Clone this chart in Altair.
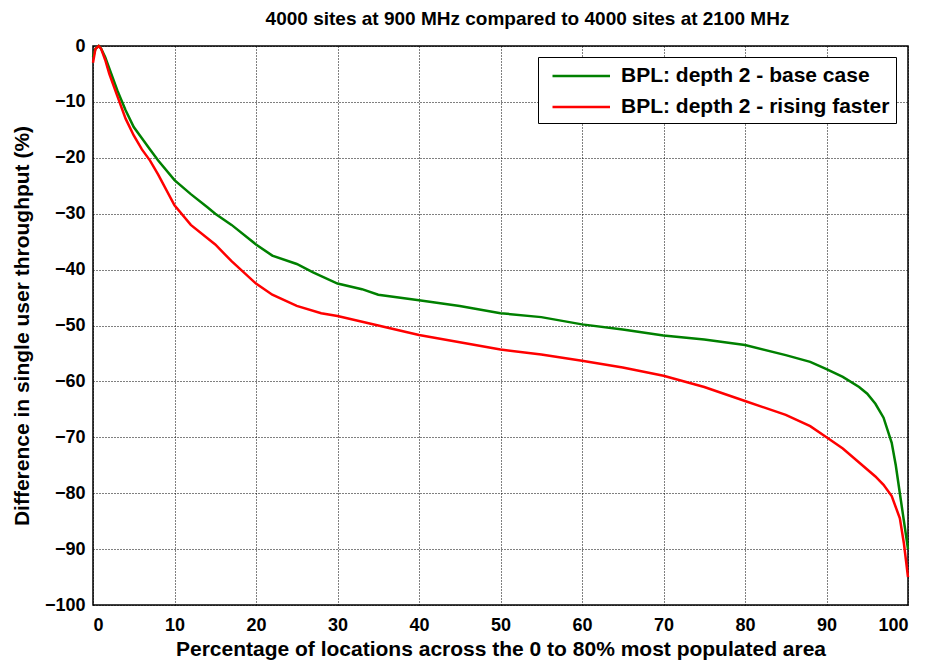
import altair as alt
import pandas as pd

title_text = "4000 sites at 900 MHz compared to 4000 sites at 2100 MHz"
series_names = ["BPL: depth 2 - base case", "BPL: depth 2 - rising faster"]
series_colors = ["#008000", "#ff0000"]

x_base = [0, 0.3, 0.7, 1, 1.5, 2, 3, 4, 5, 6, 7, 8, 10, 12, 14, 15, 17, 20, 22, 25, 27, 30, 33,
          35, 40, 45, 50, 55, 60, 65, 70, 75, 80, 85, 88, 90, 92, 94, 95, 96, 97, 98, 98.5,
          99, 99.5, 100]
y_base = [-2, -0.5, 0, -0.5, -2, -4, -8, -11.5, -14.5, -16.5, -18.5, -20.5, -24, -26.5, -28.8,
          -30, -32, -35.5, -37.5, -39, -40.5, -42.5, -43.5, -44.5, -45.5, -46.5, -47.8, -48.5,
          -49.8, -50.7, -51.8, -52.5, -53.5, -55.3, -56.5, -57.8, -59.2, -61, -62.2, -64,
          -66.5, -71, -75, -80, -85, -90]

x_fast = [0, 0.3, 0.7, 1, 1.5, 2, 3, 4, 5, 6, 7, 8, 10, 12, 15, 17, 20, 22, 25, 28, 30, 35, 40,
          45, 50, 55, 60, 65, 70, 75, 80, 85, 88, 90, 92, 94, 96, 97, 98, 99, 99.5, 100]
y_fast = [-3, -0.5, 0, -0.5, -2.5, -5, -9, -13, -16, -18.5, -20.5, -23, -28.5, -32, -35.5,
          -38.5, -42.5, -44.5, -46.5, -47.8, -48.3, -50, -51.7, -53, -54.3, -55.2, -56.3,
          -57.5, -59, -61, -63.5, -66, -68, -70, -72, -74.5, -77, -78.5, -80.5, -84.5, -89, -95]

y_ticks = list(range(-100, 1, 10))
x_ticks = list(range(0, 101, 10))

rows = []
for i, (xs, ys) in enumerate([(x_base, y_base), (x_fast, y_fast)]):
    for j, (xv, yv) in enumerate(zip(xs, ys)):
        rows.append({"x": xv, "y": yv, "series": series_names[i], "order": j})
df = pd.DataFrame(rows)

font = "Liberation Sans"

chart = alt.Chart(df).mark_line(strokeWidth=2.5).encode(
    x=alt.X("x:Q", scale=alt.Scale(domain=[0, 100], nice=False),
            axis=alt.Axis(values=x_ticks, title="Percentage of locations across the 0 to 80% most populated area",
                          labelPadding=11, titlePadding=4)),
    y=alt.Y("y:Q", scale=alt.Scale(domain=[-100, 0], nice=False),
            axis=alt.Axis(values=y_ticks, title="Difference in single user throughput (%)",
                          labelPadding=8, titlePadding=12)),
    color=alt.Color("series:N", scale=alt.Scale(domain=series_names, range=series_colors),
                    legend=alt.Legend(title=None, orient="none", legendX=445, legendY=11,
                                      symbolType="M-1,0H4", symbolSize=529, symbolStrokeWidth=2.5,
                                      symbolOffset=7, labelOffset=44,
                                      labelFont=font, labelFontSize=21, labelFontWeight="bold",
                                      labelColor="black", strokeColor="black", fillColor="white",
                                      padding=6, rowPadding=8, labelLimit=400)),
    order="order:Q",
).properties(
    width=815, height=559,
    title=alt.TitleParams(title_text, font=font, fontSize=19, fontWeight="bold", color="black",
                          anchor="middle", dx=27, offset=8),
    autosize=alt.AutoSizeParams(type="none"),
    padding={"left": 85, "top": 38, "right": 12, "bottom": 59},
).configure_view(
    stroke="black", strokeWidth=1.5
).configure_axis(
    domain=False, ticks=False, grid=True, gridColor="black", gridDash=[1, 2], gridOpacity=1,
    gridWidth=1, labelFont=font, labelFontSize=18, labelFontWeight="bold", labelColor="black",
    titleFont=font, titleFontSize=21, titleFontWeight="bold", titleColor="black",
)

chart.save("out.html", embed_options={"renderer": "svg", "actions": False})
